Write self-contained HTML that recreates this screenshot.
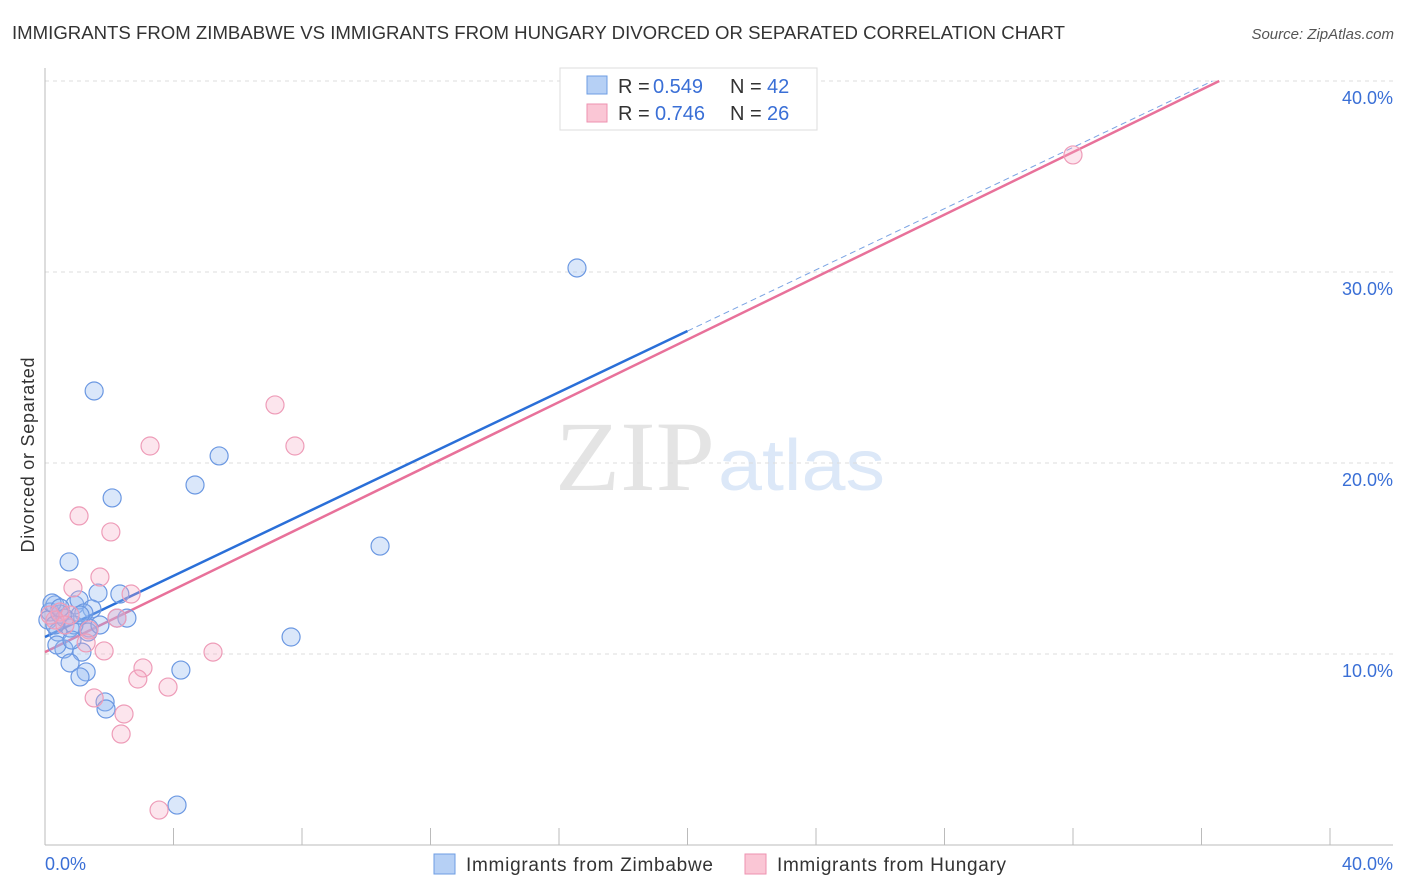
<!DOCTYPE html>
<html><head><meta charset="utf-8"><style>
body{margin:0;background:#fff;font-family:"Liberation Sans",sans-serif;}
svg{display:block}
</style></head><body>
<svg id="chart" width="1406" height="892">
<text x="12" y="39" font-size="18" fill="#333" textLength="1053" lengthAdjust="spacingAndGlyphs">IMMIGRANTS FROM ZIMBABWE VS IMMIGRANTS FROM HUNGARY DIVORCED OR SEPARATED CORRELATION CHART</text>
<text x="1394" y="39" font-size="15" fill="#555" text-anchor="end" font-style="italic">Source: ZipAtlas.com</text>
<text x="555" y="490" font-size="100" fill="#e4e4e4" textLength="160" lengthAdjust="spacingAndGlyphs" font-family="Liberation Serif,serif">ZIP</text>
<text x="718" y="490" font-size="72" fill="#dce8f8" textLength="167" lengthAdjust="spacingAndGlyphs">atlas</text>
<g id="grid"></g>
<g id="axes"></g>
<g id="lines"></g>
<g id="pts"></g>
<text x="34" y="455" font-size="18" fill="#333" text-anchor="middle" textLength="195" transform="rotate(-90 34 455)">Divorced or Separated</text>
<g>
<rect x="560" y="68" width="257" height="62" fill="#fff" stroke="#ddd"/>
<rect x="587" y="76" width="20" height="18" fill="#b6d0f5" stroke="#6d9de3"/>
<rect x="587" y="104" width="20" height="18" fill="#fac6d5" stroke="#ee92b0"/>
<text x="618" y="93" font-size="20" fill="#333">R = <tspan x="653" fill="#3a6fd6">0.549</tspan><tspan x="730">N = </tspan><tspan x="767" fill="#3a6fd6">42</tspan></text>
<text x="618" y="120" font-size="20" fill="#333">R = <tspan x="655" fill="#3a6fd6">0.746</tspan><tspan x="730">N = </tspan><tspan x="767" fill="#3a6fd6">26</tspan></text>
</g>
<g>
<rect x="434" y="854" width="21" height="20" fill="#b6d0f5" stroke="#6d9de3"/>
<text x="466" y="871" font-size="19" fill="#333" textLength="247">Immigrants from Zimbabwe</text>
<rect x="745" y="854" width="21" height="20" fill="#fac6d5" stroke="#ee92b0"/>
<text x="777" y="871" font-size="19" fill="#333" textLength="229">Immigrants from Hungary</text>
</g>
</svg>
<script>
const xTicks=[0,4,8,12,16,20,24,28,32,36,40];
const yTicks=[10,20,30,40];
const blueX=[1.53,2.09,5.42,4.67,16.56,10.43,0.75,1.65,2.33,2.55,2.24,0.93,1.06,1.46,1.21,0.31,0.16,0.09,0.47,0.40,0.78,1.37,1.34,0.90,0.59,1.15,0.78,1.28,1.09,1.87,1.90,4.23,7.66,4.11,0.37,0.22,0.62,0.47,0.84,1.09,0.31,1.71];
const blueY=[23.77,18.17,20.37,18.85,30.21,15.65,14.82,13.19,13.14,11.88,11.88,12.57,12.83,12.36,12.15,12.57,12.20,11.78,12.09,11.15,11.36,11.36,11.15,11.52,10.26,10.10,9.53,9.06,8.80,7.49,7.12,9.16,10.89,2.09,10.47,12.67,11.88,12.41,10.73,12.04,11.52,11.52];
const pinkX=[32.0,7.16,7.78,3.27,1.06,2.05,1.71,0.87,2.68,2.24,1.37,1.28,1.84,5.23,3.05,2.89,3.83,1.53,2.46,2.37,3.55,0.47,0.78,0.31,0.62,0.16];
const pinkY=[36.13,23.04,20.89,20.89,17.23,16.39,14.03,13.46,13.14,11.88,11.26,10.58,10.16,10.10,9.27,8.69,8.27,7.70,6.86,5.81,1.83,12.20,12.04,11.78,11.52,12.04];
const blueFit=[10.89,0.801];
const pinkFit=[10.10,0.818];
const sx=v=>45+v*32.125, sy=v=>845-v*19.1;
const NS="http://www.w3.org/2000/svg";
function mk(p,t,a){const e=document.createElementNS(NS,t);for(const k in a)e.setAttribute(k,a[k]);p.appendChild(e);return e;}
const grid=document.getElementById('grid'),axes=document.getElementById('axes'),lines=document.getElementById('lines'),pts=document.getElementById('pts');
yTicks.forEach(v=>{
 const l=mk(grid,'line',{x1:45,x2:1393,y1:sy(v),y2:sy(v),stroke:'#ddd','stroke-dasharray':'4,4'});
 
 
 const t=mk(axes,'text',{x:1393,y:sy(v)+23,'font-size':18,fill:'#3a6fd6','text-anchor':'end'});t.textContent=v.toFixed(1)+'%';
 
 
});
mk(axes,'line',{x1:45,x2:45,y1:68,y2:845,stroke:'#bbb'});
mk(axes,'line',{x1:45,x2:1393,y1:845,y2:845,stroke:'#bbb'});
xTicks.forEach(v=>{
 const l=mk(axes,'line',{x1:sx(v),x2:sx(v),y1:828,y2:845,stroke:'#bbb'});
 
 
});
[[0,'0.0%','start',45],[40,'40.0%','end',1393]].forEach(a=>{
 const t=mk(axes,'text',{x:a[3],y:870,'font-size':18,fill:'#3a6fd6','text-anchor':a[2]});t.textContent=a[1];
 
 
});
const xEnd=(40-pinkFit[0])/pinkFit[1];
const xEndB=(40-blueFit[0])/blueFit[1];
let l=mk(lines,'line',{x1:sx(0),y1:sy(blueFit[0]),x2:sx(20),y2:sy(blueFit[0]+20*blueFit[1]),stroke:'#2a6fd8','stroke-width':2.5});


l=mk(lines,'line',{x1:sx(20),y1:sy(blueFit[0]+20*blueFit[1]),x2:sx(xEndB),y2:sy(40),stroke:'#7aa3e3','stroke-width':1,'stroke-dasharray':'6,4'});


l=mk(lines,'line',{x1:sx(0),y1:sy(pinkFit[0]),x2:sx(xEnd),y2:sy(40),stroke:'#e8719a','stroke-width':2.5});


blueX.forEach((x,i)=>{
 const c=mk(pts,'circle',{cx:sx(x),cy:sy(blueY[i]),r:9,fill:'rgba(150,185,240,0.35)',stroke:'#6b98e2','stroke-width':1.2});
 
 
});
pinkX.forEach((x,i)=>{
 const c=mk(pts,'circle',{cx:sx(x),cy:sy(pinkY[i]),r:9,fill:'rgba(246,170,195,0.3)',stroke:'#ee9cb8','stroke-width':1.2});
 
 
});
</script>
</body></html>
